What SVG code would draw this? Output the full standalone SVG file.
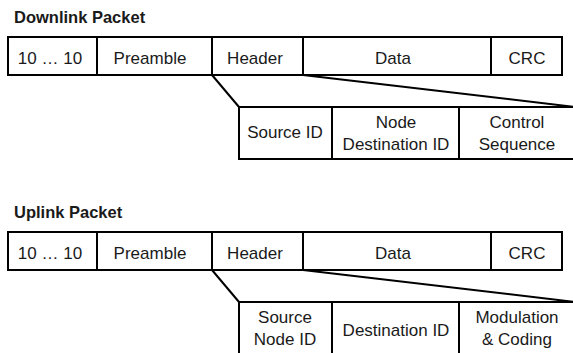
<svg xmlns="http://www.w3.org/2000/svg" width="573" height="353" viewBox="0 0 573 353">
<style>
.cell{fill:#fff;stroke:#000;stroke-width:2}
.t{font-family:"Liberation Sans",Arial,sans-serif;font-size:17px;fill:#1a1a1a;text-anchor:middle}
.title{font-family:"Liberation Sans",Arial,sans-serif;font-size:16.5px;font-weight:bold;fill:#1a1a1a}
.conn{stroke:#000;stroke-width:2;fill:none}
</style>
<rect width="573" height="353" fill="#fff"/>
<text class="title" x="14" y="23">Downlink Packet</text>
<text class="title" x="14" y="218">Uplink Packet</text>
<g id="connectors">
<line class="conn" x1="212" y1="75" x2="239" y2="107"/>
<line class="conn" x1="303" y1="75" x2="576" y2="107"/>
<line class="conn" x1="212" y1="270" x2="239" y2="302"/>
<line class="conn" x1="303" y1="270" x2="576" y2="302"/>
</g>
<g id="dl-sync"><rect class="cell" x="8" y="37" width="89" height="38"/><text class="t" x="50" y="63.5">10 … 10</text></g>
<g id="dl-preamble"><rect class="cell" x="97" y="37" width="115" height="38"/><text class="t" x="150" y="63.5">Preamble</text></g>
<g id="dl-header"><rect class="cell" x="212" y="37" width="91" height="38"/><text class="t" x="255" y="63.5">Header</text></g>
<g id="dl-data"><rect class="cell" x="303" y="37" width="188" height="38"/><text class="t" x="393" y="63.5">Data</text></g>
<g id="dl-crc"><rect class="cell" x="491" y="37" width="71" height="38"/><text class="t" x="527" y="63.5">CRC</text></g>
<g id="dl-source"><rect class="cell" x="239" y="107" width="93" height="52"/><text class="t" x="285" y="138">Source ID</text></g>
<g id="dl-dest"><rect class="cell" x="332" y="107" width="127" height="52"/><text class="t" x="396" y="128">Node</text><text class="t" x="396" y="150">Destination ID</text></g>
<g id="dl-control"><rect class="cell" x="459" y="107" width="125" height="52"/><text class="t" x="517" y="128">Control</text><text class="t" x="517" y="150">Sequence</text></g>
<g id="ul-sync"><rect class="cell" x="8" y="232" width="89" height="38"/><text class="t" x="50" y="258.5">10 … 10</text></g>
<g id="ul-preamble"><rect class="cell" x="97" y="232" width="115" height="38"/><text class="t" x="150" y="258.5">Preamble</text></g>
<g id="ul-header"><rect class="cell" x="212" y="232" width="91" height="38"/><text class="t" x="255" y="258.5">Header</text></g>
<g id="ul-data"><rect class="cell" x="303" y="232" width="188" height="38"/><text class="t" x="393" y="258.5">Data</text></g>
<g id="ul-crc"><rect class="cell" x="491" y="232" width="71" height="38"/><text class="t" x="527" y="258.5">CRC</text></g>
<g id="ul-source"><rect class="cell" x="239" y="302" width="93" height="60"/><text class="t" x="285" y="323">Source</text><text class="t" x="285" y="345">Node ID</text></g>
<g id="ul-dest"><rect class="cell" x="332" y="302" width="127" height="60"/><text class="t" x="396" y="336">Destination ID</text></g>
<g id="ul-mod"><rect class="cell" x="459" y="302" width="125" height="60"/><text class="t" x="517" y="323">Modulation</text><text class="t" x="517" y="345">&amp; Coding</text></g>
</svg>
